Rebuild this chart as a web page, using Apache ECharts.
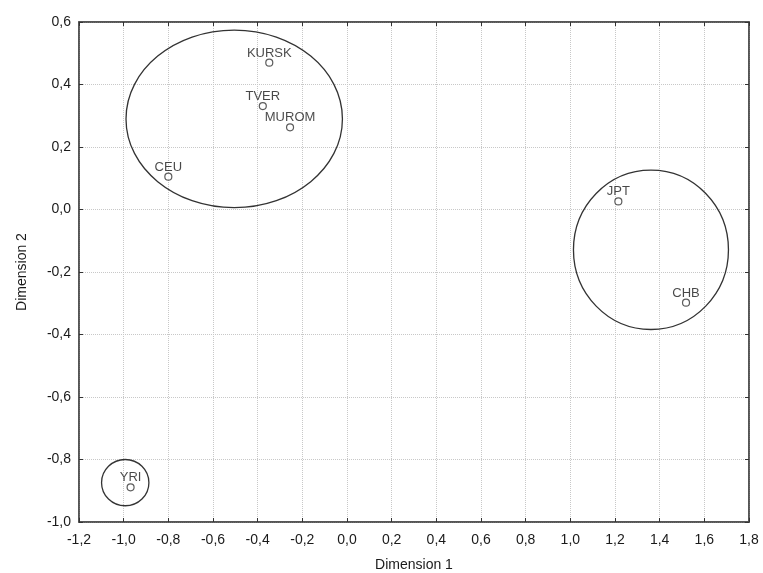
<!DOCTYPE html>
<html>
<head>
<meta charset="utf-8">
<script src="https://cdn.jsdelivr.net/npm/echarts@6/dist/echarts.min.js"></script>
<style>
html,body{margin:0;padding:0;background:#fff;}
#chart{width:763px;height:573px;}
</style>
</head>
<body>
<div id="chart"></div>
<script>
// Populations (MDS coordinates)
var pointNames = ['KURSK', 'TVER', 'MUROM', 'CEU', 'JPT', 'CHB', 'YRI'];
var dim1 = [-0.348, -0.377, -0.255, -0.800, 1.215, 1.518, -0.969];
var dim2 = [0.470, 0.331, 0.263, 0.105, 0.026, -0.298, -0.889];

// Cluster ellipses (centre and radii in data units)
var ellipseCx = [-0.505, 1.361, -0.993];
var ellipseCy = [0.290, -0.129, -0.874];
var ellipseRx = [0.4845, 0.347, 0.106];
var ellipseRy = [0.284, 0.255, 0.074];

var xName = 'Dimension 1';
var yName = 'Dimension 2';

function fmt(v) {
  if (Math.abs(v) < 1e-9) v = 0;
  return v.toFixed(1).replace('.', ',');
}

var pointData = pointNames.map(function (n, i) { return { name: n, value: [dim1[i], dim2[i]] }; });
var ellipseData = ellipseCx.map(function (c, i) { return [c, ellipseCy[i], ellipseRx[i], ellipseRy[i]]; });

var font = 'Liberation Sans, Arial, sans-serif';
var axisLineStyle = { color: '#4a4a4a', width: 1.5 };

var chart = echarts.init(document.getElementById('chart'), null, { renderer: 'canvas' });
chart.setOption({
  animation: false,
  backgroundColor: '#fff',
  grid: { left: 79, right: 14, top: 22, bottom: 51, show: true, borderColor: '#555', borderWidth: 1.5, backgroundColor: 'transparent', containLabel: false, outerBoundsMode: 'none' },
  xAxis: [{
    type: 'value', min: -1.2, max: 1.8, interval: 0.2, position: 'bottom',
    name: xName, nameLocation: 'middle', nameGap: 36,
    nameTextStyle: { fontFamily: font, fontSize: 14, color: '#1a1a1a' },
    axisLine: { show: true, onZero: false, lineStyle: axisLineStyle },
    axisTick: { show: true, inside: true, length: 4, lineStyle: { color: '#333' } },
    axisLabel: { formatter: fmt, fontFamily: font, fontSize: 14, color: '#1a1a1a', margin: 11 },
    splitLine: { show: true, lineStyle: { type: 'dotted', color: '#c8c8c8', width: 1 } }
  }, {
    type: 'value', min: -1.2, max: 1.8, interval: 0.2, position: 'top',
    axisLine: { show: true, onZero: false, lineStyle: axisLineStyle },
    axisTick: { show: true, inside: true, length: 4, lineStyle: { color: '#333' } },
    axisLabel: { show: false }, splitLine: { show: false }
  }],
  yAxis: [{
    type: 'value', min: -1.0, max: 0.6, interval: 0.2, position: 'left',
    name: yName, nameLocation: 'middle', nameGap: 50, nameRotate: 90,
    nameTextStyle: { fontFamily: font, fontSize: 14, color: '#1a1a1a' },
    axisLine: { show: true, onZero: false, lineStyle: axisLineStyle },
    axisTick: { show: true, inside: true, length: 4, lineStyle: { color: '#333' } },
    axisLabel: { formatter: fmt, fontFamily: font, fontSize: 14, color: '#1a1a1a', margin: 8 },
    splitLine: { show: true, lineStyle: { type: 'dotted', color: '#c8c8c8', width: 1 } }
  }, {
    type: 'value', min: -1.0, max: 0.6, interval: 0.2, position: 'right',
    axisLine: { show: true, onZero: false, lineStyle: axisLineStyle },
    axisTick: { show: true, inside: true, length: 4, lineStyle: { color: '#333' } },
    axisLabel: { show: false }, splitLine: { show: false }
  }],
  series: [{
    type: 'custom',
    xAxisIndex: 0, yAxisIndex: 0,
    clip: false,
    silent: true,
    data: ellipseData,
    renderItem: function (params, api) {
      var c = api.coord([api.value(0), api.value(1)]);
      var s = api.size([api.value(2), api.value(3)]);
      return {
        type: 'ellipse',
        shape: { cx: c[0], cy: c[1], rx: s[0], ry: s[1] },
        style: { fill: null, stroke: '#333', lineWidth: 1.3 }
      };
    }
  }, {
    type: 'scatter',
    xAxisIndex: 0, yAxisIndex: 0,
    symbol: 'circle', symbolSize: 7,
    itemStyle: { color: '#fff', borderColor: '#333', borderWidth: 1.2 },
    label: {
      show: true, position: 'top', distance: -1,
      formatter: function (p) { return p.name; },
      fontFamily: font, fontSize: 13, color: '#1a1a1a'
    },
    data: pointData
  }]
});
</script>
</body>
</html>
